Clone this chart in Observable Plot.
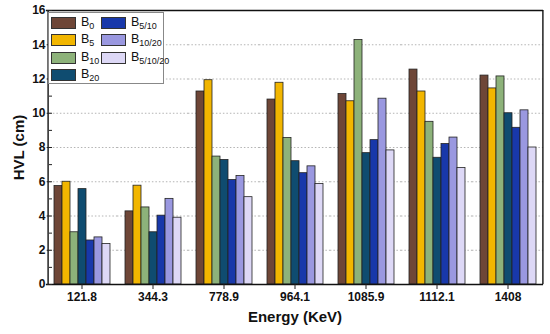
<!DOCTYPE html>
<html><head><meta charset="utf-8">
<script src="https://cdn.jsdelivr.net/npm/d3@7"></script>
<script src="https://cdn.jsdelivr.net/npm/@observablehq/plot@0.6"></script>
<style>
body{margin:0;background:#fff;font-family:"Liberation Sans",Arial,sans-serif;}
#wrap{position:relative;width:550px;height:334px;}
#legend{position:absolute;left:48px;top:12px;width:116px;height:72px;border:1px solid #888;background:#fff;box-sizing:border-box;}
.it{position:absolute;display:flex;align-items:center;font-size:12.5px;color:#111;}
.sw{width:25px;height:12px;border:1px solid #333;margin-right:5px;box-sizing:border-box;}
.it sub{font-size:9px;vertical-align:-3px;}
svg g[aria-label="fx-axis label"] text, svg g[aria-label="y-axis label"] text{font-size:15px;}
</style></head>
<body><div id="wrap"><div id="legend"></div></div>
<script>
const energies = ["121.8","344.3","778.9","964.1","1085.9","1112.1","1408"];
const seriesNames = ["B0","B5","B10","B20","B5/10","B10/20","B5/10/20"];
const B0      = [5.75, 4.27, 11.27, 10.80, 11.12, 12.55, 12.20];
const B5      = [6.00, 5.77, 11.93, 11.78, 10.70, 11.27, 11.45];
const B10     = [3.05, 4.50,  7.47,  8.55, 14.28,  9.50, 12.15];
const B20     = [5.57, 3.05,  7.27,  7.20,  7.67,  7.40, 10.00];
const B5_10   = [2.57, 4.02,  6.10,  6.50,  8.43,  8.20,  9.15];
const B10_20  = [2.75, 5.00,  6.33,  6.90, 10.85,  8.58, 10.17];
const B5_10_20= [2.37, 3.90,  5.10,  5.87,  7.83,  6.80,  8.00];
const colors = ["#6e4637","#f2b600","#8db27a","#0f4c70","#1838aa","#9a98e0","#ddd8f6"];
const majorTicks = [0,2,4,6,8,10,12,14,16];
const minorTicks = [1,3,5,7,9,11,13,15];
const gridTicks = [2,4,6,8,10,12,14];
const frameLevels = [0,16];

const allSeries = [B0,B5,B10,B20,B5_10,B10_20,B5_10_20];
const data = [];
energies.forEach((e,i)=>seriesNames.forEach((s,j)=>data.push({energy:e, series:s, value:allSeries[j][i]})));
const firstLast = [{energy:energies[0], series:seriesNames[0]}, {energy:energies[energies.length-1], series:seriesNames[seriesNames.length-1]}];

const W = 550, H = 334, mL = 44, mR = 5, mT = 10, mB = 50;
const plot = Plot.plot({
  width:W, height:H,
  marginLeft:mL, marginRight:mR, marginTop:mT, marginBottom:mB,
  style:{fontFamily:"'Liberation Sans', Arial, sans-serif", fontWeight:"bold", fontSize:"12px", color:"#111"},
  fx:{domain:energies, paddingInner:0.17, paddingOuter:0.085},
  x:{domain:seriesNames, padding:0, axis:null},
  y:{domain:[0,16]},
  color:{domain:seriesNames, range:colors},
  marks:[
    Plot.ruleY(gridTicks,{stroke:"#b4b4b4", strokeWidth:1, strokeDasharray:"1.5,2", insetLeft:-6.1, insetRight:-6.1}),
    Plot.barY(data,{fx:"energy", x:"series", y:"value", fill:"series", stroke:"#222", strokeWidth:0.8}),
    Plot.ruleY(frameLevels,{stroke:"#111", strokeWidth:1.4, insetLeft:-6.1, insetRight:-6.1}),
    Plot.tickX(firstLast.slice(0,1),{fx:"energy", x:"series", y1:0, y2:16, stroke:"#111", strokeWidth:1.4, dx:-6.1 - 4.3}),
    Plot.tickX(firstLast.slice(1),{fx:"energy", x:"series", y1:0, y2:16, stroke:"#111", strokeWidth:1.4, dx:6.1 + 4.3}),
    Plot.axisY({ticks:minorTicks, tickSize:3, text:null, label:null, stroke:"#222"}),
    Plot.axisY({ticks:majorTicks, tickSize:5, tickPadding:2, tickFormat:d=>String(d), label:"HVL (cm)", labelArrow:"none", labelAnchor:"center", labelOffset:39, stroke:"#222"}),
    Plot.axisFx({anchor:"bottom", tickSize:5, tickPadding:3, label:"Energy (KeV)", labelArrow:"none", labelAnchor:"center", labelOffset:37, stroke:"#222"})
  ]
});
document.getElementById("wrap").prepend(plot);

const leg = document.getElementById("legend");
const pos = [[0,0],[0,1],[0,2],[0,3],[1,0],[1,1],[1,2]];
seriesNames.forEach((s,j)=>{
  const [c,r] = pos[j];
  const d = document.createElement("div");
  d.className="it";
  d.style.left=(2+c*50)+"px"; d.style.top=(2+r*17.3)+"px";
  const parts = s.slice(1);
  d.innerHTML=`<div class="sw" style="background:${colors[j]}"></div><span>B<sub>${parts}</sub></span>`;
  leg.appendChild(d);
});
</script></body></html>
